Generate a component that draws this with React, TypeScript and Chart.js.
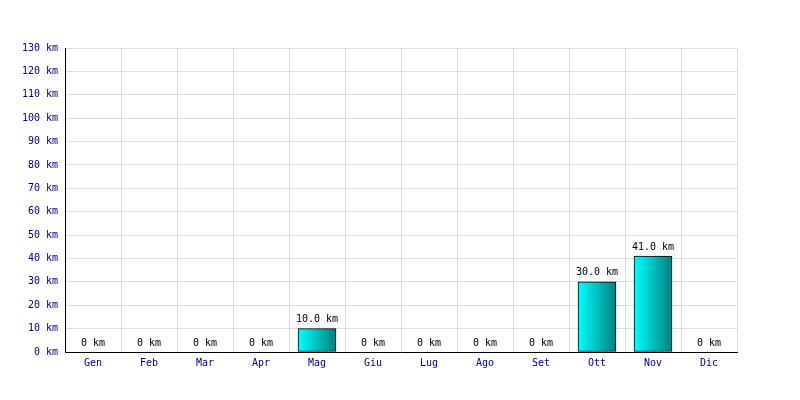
import React, { useEffect, useRef } from "react";
import { Chart, registerables } from "chart.js";

Chart.register(...registerables);

const months = ["Gen", "Feb", "Mar", "Apr", "Mag", "Giu", "Lug", "Ago", "Set", "Ott", "Nov", "Dic"];
const distances = [0, 0, 0, 0, 10, 0, 0, 0, 0, 30, 41, 0];
const yMax = 130;
const yStep = 10;

const FONT = "'DejaVu Sans Mono', monospace";

const labelPlugin = {
  id: "barLabels",
  afterDatasetsDraw(chart: any) {
    const ctx = chart.ctx;
    const meta = chart.getDatasetMeta(0);
    ctx.save();
    ctx.font = `10px ${FONT}`;
    ctx.fillStyle = "#000000";
    ctx.textAlign = "center";
    ctx.textBaseline = "bottom";
    meta.data.forEach((el: any, i: number) => {
      const v = distances[i];
      const txt = v === 0 ? "0 km" : `${v.toFixed(1)} km`;
      ctx.fillText(txt, el.x, el.y - 4);
    });
    ctx.restore();
  },
};

export default function App() {
  const ref = useRef<HTMLCanvasElement>(null);
  useEffect(() => {
    document.body.style.margin = "0";
    const canvas = ref.current!;
    const chart = new Chart(canvas, {
      type: "bar",
      data: {
        labels: months,
        datasets: [
          {
            data: distances,
            backgroundColor: (c: any) => {
              const ch = c.chart;
              const area = ch.chartArea;
              if (!area || c.dataIndex === undefined) return "#00cccc";
              const x = ch.scales.x.getPixelForValue(c.dataIndex);
              const half = 19;
              const g = ch.ctx.createLinearGradient(x - half, 0, x + half, 0);
              g.addColorStop(0, "#00ffff");
              g.addColorStop(1, "#008080");
              return g;
            },
            borderColor: "#000000",
            borderWidth: 1,
            borderSkipped: false,
            barThickness: 38,
          },
        ],
      },
      options: {
        animation: false,
        responsive: false,
        maintainAspectRatio: false,
        layout: { padding: { top: 48, right: 63, left: 0, bottom: 0 } },
        plugins: { legend: { display: false }, tooltip: { enabled: false } },
        scales: {
          x: {
            offset: true,
            grid: { color: "#dddddd", drawTicks: false, offset: true },
            border: { color: "#000000", width: 1 },
            ticks: { color: "#000080", font: { family: FONT, size: 10 }, padding: 5 },
            afterFit: (s: any) => {
              s.height = 48;
            },
          },
          y: {
            min: 0,
            max: yMax,
            grid: { color: "#dddddd", drawTicks: false },
            border: { color: "#000000", width: 1 },
            ticks: {
              stepSize: yStep,
              color: "#000080",
              font: { family: FONT, size: 10 },
              padding: 7,
              callback: (v: any) => `${v} km`,
            },
            afterFit: (s: any) => {
              s.width = 65;
            },
          },
        },
      },
      plugins: [labelPlugin],
    });
    return () => chart.destroy();
  }, []);
  return <canvas ref={ref} width={800} height={400} style={{ display: "block" }} />;
}
